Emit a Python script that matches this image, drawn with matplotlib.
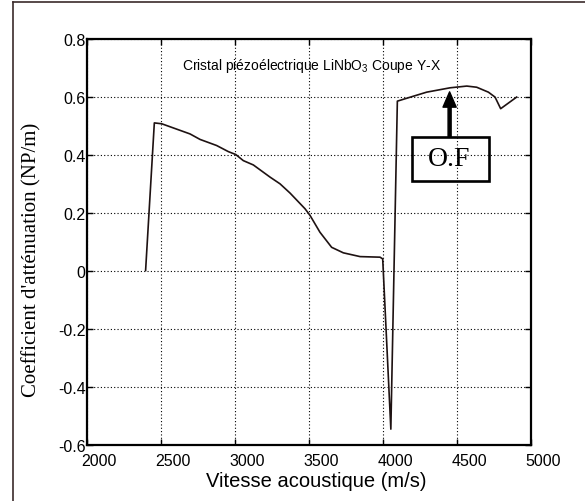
import matplotlib
matplotlib.use('Agg')
import matplotlib.pyplot as plt
import matplotlib.transforms as mtransforms
from matplotlib.lines import Line2D
from matplotlib.patches import Rectangle

# Données
vitesse = [2396, 2455, 2505, 2696, 2764, 2876, 2955, 3005, 3056, 3124, 3237,
           3304, 3372, 3473, 3507, 3574, 3653, 3732, 3845, 3980, 3998,
           4053, 4097, 4205, 4295, 4453, 4566, 4633, 4712, 4757, 4795, 4903]
attenuation = [0.0, 0.509, 0.506, 0.471, 0.452, 0.431, 0.410, 0.400, 0.379, 0.364, 0.322,
               0.299, 0.267, 0.213, 0.190, 0.132, 0.080, 0.061, 0.048, 0.046, 0.040,
               -0.547, 0.584, 0.601, 0.615, 0.630, 0.636, 0.632, 0.615, 0.598, 0.558, 0.598]

xticks = [2000, 2500, 3000, 3500, 4000, 4500, 5000]
yticks = [-0.6, -0.4, -0.2, 0, 0.2, 0.4, 0.6, 0.8]
ytick_labels = ['-0.6', '-0.4', '-0.2', '0', '0.2', '0.4', '0.6', '0.8']

plt.rcParams['font.family'] = ['Liberation Sans', 'DejaVu Sans']

fig = plt.figure(figsize=(5.85, 5.02), dpi=100)
ax = fig.add_axes([0.1487, 0.1125, 0.759, 0.8088])

ax.plot(vitesse, attenuation, color='#1e1212', linewidth=1.2)

ax.set_xlim(2000, 5000)
ax.set_ylim(-0.6, 0.8)
ax.set_xticks(xticks)
ax.set_yticks(yticks)
ax.set_yticklabels(ytick_labels)
ax.grid(True, color='black', linestyle=(0, (1, 2)), linewidth=0.8)
ax.tick_params(direction='in', length=4, width=1, top=True, right=True,
               labelsize=11.5, colors='black')
ax.tick_params(axis='x', pad=6)
ax.tick_params(axis='y', pad=1)
for s in ax.spines.values():
    s.set_linewidth(1.6)

# décalage des étiquettes de l'axe x (comme sur l'original)
offset = mtransforms.ScaledTranslation(0.12, 0, fig.dpi_scale_trans)
for lab in ax.get_xticklabels():
    lab.set_transform(lab.get_transform() + offset)

fig.text(0.541, 0.040, 'Vitesse acoustique (m/s)', fontsize=14.5,
         ha='center', va='center')
fig.text(0.055, 0.482, "Coefficient d'atténuation (NP/m)", fontsize=15,
         family='Liberation Serif', rotation=90, ha='center', va='center')

ax.text(0.505, 0.935, r'Cristal piézoélectrique LiNbO$\mathregular{_3}$ Coupe Y-X',
        transform=ax.transAxes, fontsize=10, ha='center', va='center')

# annotation O.F
ax.add_patch(Rectangle((4194, 0.310), 524, 0.152, fill=False,
                       edgecolor='black', linewidth=1.9))
ax.text(4450, 0.386, 'O.F', family='Liberation Serif', fontsize=20,
        ha='center', va='center')
ax.annotate('', xy=(4450, 0.616), xytext=(4450, 0.462),
            arrowprops=dict(width=2.2, headwidth=9.5, headlength=11,
                            shrink=0, color='black'))

# cadre de la figure (gauche et haut)
fig.add_artist(Line2D([0.0227, 0.0227], [0, 0.9932], color='#3b2b2b', linewidth=1.2))
fig.add_artist(Line2D([0.0227, 1], [0.9932, 0.9932], color='#3b2b2b', linewidth=1.2))

fig.savefig('out.png', dpi=100)
